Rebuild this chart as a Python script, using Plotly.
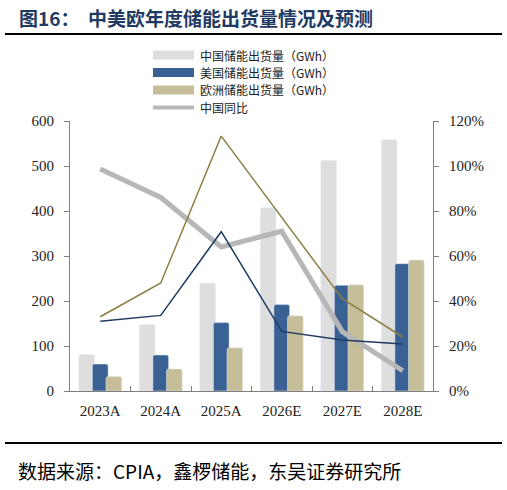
import plotly.graph_objects as go

categories = ["2023A", "2024A", "2025A", "2026E", "2027E", "2028E"]
china_gwh = [81, 148, 240, 407, 513, 559]
us_gwh = [60, 80, 152, 192, 235, 283]
eu_gwh = [32, 49, 96, 167, 236, 291]
china_yoy = [98.7, 86, 64, 71, 26.4, 9]
us_yoy = [31, 33.6, 70.8, 26.5, 22.7, 20.9]
eu_yoy = [33, 48, 113.3, 77, 41, 24]
left_ticks = [0, 100, 200, 300, 400, 500, 600]
right_ticks = [0, 20, 40, 60, 80, 100, 120]

legend_names = ["中国储能出货量（GWh）", "美国储能出货量（GWh）", "欧洲储能出货量（GWh）", "中国同比"]

C_CN = "#DEDEDE"
C_US = "#3A6194"
C_EU = "#C6BE98"
C_CNL = "#B7B7B7"
C_USL = "#1F3A63"
C_EUL = "#8C7F45"

W, H = 507, 490
L, R, T, B = 70, 433, 121, 391

def px(x):
    return (x - L) / (R - L)

def py(y):
    return (B - y) / (B - T)

SERIF = "Liberation Serif, Noto Sans CJK SC, serif"
CJK = "Noto Sans CJK SC, Liberation Serif, serif"

fig = go.Figure()
bw = 0.26
fig.add_trace(go.Bar(x=categories, y=china_gwh, name=legend_names[0], marker_color=C_CN,
                     width=bw, offset=-0.355, showlegend=False))
fig.add_trace(go.Bar(x=categories, y=us_gwh, name=legend_names[1], marker_color=C_US,
                     width=bw, offset=-0.13, showlegend=False))
fig.add_trace(go.Bar(x=categories, y=eu_gwh, name=legend_names[2], marker_color=C_EU,
                     width=bw, offset=0.095, showlegend=False))
fig.add_trace(go.Scatter(x=categories, y=china_yoy, yaxis="y2", mode="lines",
                         line=dict(color=C_CNL, width=5), name=legend_names[3], showlegend=False))
fig.add_trace(go.Scatter(x=categories, y=us_yoy, yaxis="y2", mode="lines",
                         line=dict(color=C_USL, width=1.5), name="美国同比", showlegend=False))
fig.add_trace(go.Scatter(x=categories, y=eu_yoy, yaxis="y2", mode="lines",
                         line=dict(color=C_EUL, width=1.5), name="欧洲同比", showlegend=False))

shapes = []
annotations = []
# title and separators
annotations.append(dict(text="<b>图16：  中美欧年度储能出货量情况及预测</b>", xref="paper", yref="paper",
                        x=px(17), y=py(18), xanchor="left", yanchor="middle", showarrow=False,
                        font=dict(family=CJK, size=19, color="#1F3A63")))
shapes.append(dict(type="line", xref="paper", yref="paper", x0=px(5), x1=px(502), y0=py(34), y1=py(34),
                   line=dict(color="#000000", width=2)))
shapes.append(dict(type="line", xref="paper", yref="paper", x0=px(5), x1=px(502), y0=py(443), y1=py(443),
                   line=dict(color="#000000", width=2)))
annotations.append(dict(text="数据来源：CPIA，鑫椤储能，东吴证券研究所", xref="paper", yref="paper",
                        x=px(16), y=py(470), xanchor="left", yanchor="middle", showarrow=False,
                        font=dict(family=CJK, size=19, color="#000000")))

# manual legend
leg_fs = 12
leg_y = [55, 72.5, 90, 107.5]
leg_colors = [C_CN, C_US, C_EU]
for i in range(3):
    shapes.append(dict(type="rect", xref="paper", yref="paper", x0=px(153), x1=px(194),
                       y0=py(leg_y[i] - 4.5), y1=py(leg_y[i] + 4.5), fillcolor=leg_colors[i],
                       line=dict(width=0)))
shapes.append(dict(type="line", xref="paper", yref="paper", x0=px(153), x1=px(194),
                   y0=py(leg_y[3]), y1=py(leg_y[3]), line=dict(color=C_CNL, width=4)))
for i in range(4):
    annotations.append(dict(text=legend_names[i], xref="paper", yref="paper", x=px(199), y=py(leg_y[i]),
                            xanchor="left", yanchor="middle", showarrow=False, borderpad=0,
                            font=dict(family=CJK, size=leg_fs, color="#222222")))

fig.update_layout(
    width=W, height=H,
    margin=dict(l=L, r=W - R, t=T, b=H - B),
    paper_bgcolor="white", plot_bgcolor="white",
    barmode="overlay", barcornerradius=2,
    showlegend=False,
    font=dict(family=SERIF, size=15, color="#222222"),
    xaxis=dict(type="category", showline=True, linecolor="#7F7F7F", linewidth=1,
               ticks="inside", tickson="boundaries", ticklen=5, tickcolor="#7F7F7F",
               tickfont=dict(family=SERIF, size=15, color="#222222"), showgrid=False,
               ticklabelstandoff=6),
    yaxis=dict(range=[0, 600], tickvals=left_ticks, showline=True, linecolor="#7F7F7F", linewidth=1,
               ticks="outside", ticklen=5, tickcolor="#7F7F7F", showgrid=False, zeroline=False,
               tickfont=dict(family=SERIF, size=15, color="#222222"), ticklabelstandoff=7),
    yaxis2=dict(range=[0, 120], tickvals=right_ticks, ticktext=[f"{v}%" for v in right_ticks],
                overlaying="y", side="right", showline=True, linecolor="#7F7F7F", linewidth=1,
                ticks="outside", ticklen=5, tickcolor="#7F7F7F", showgrid=False, zeroline=False,
                tickfont=dict(family=SERIF, size=15, color="#222222"), ticklabelstandoff=7),
    shapes=shapes, annotations=annotations,
)

fig.write_html("out.html")
